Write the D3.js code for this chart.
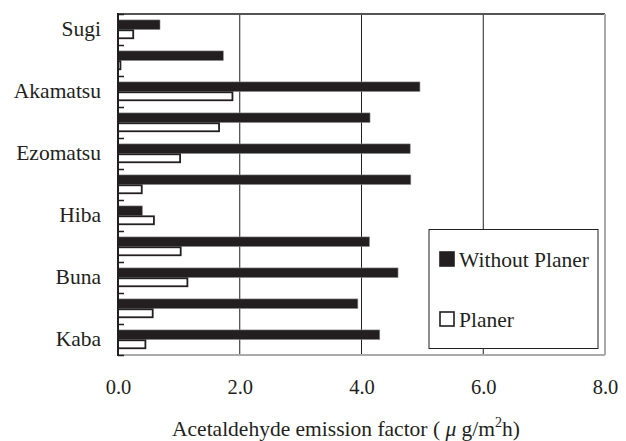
<!DOCTYPE html>
<html>
<head>
<meta charset="utf-8">
<script src="https://cdn.jsdelivr.net/npm/d3@7"></script>
</head>
<body style="margin:0;background:#fff">
<div id="chart"></div>
<script>
// ---- data ----
const categoryIds = ["c1","c2","c3","c4","c5","c6","c7","c8","c9","c10","c11"];
const tickLabels = ["Sugi","","Akamatsu","","Ezomatsu","","Hiba","","Buna","","Kaba"];
const seriesNames = ["Without Planer","Planer"];
const withoutPlaner = [0.69, 1.73, 4.96, 4.14, 4.80, 4.81, 0.40, 4.13, 4.60, 3.94, 4.30];
const planer        = [0.25, 0.04, 1.88, 1.66, 1.02, 0.39, 0.59, 1.03, 1.14, 0.57, 0.45];
const xTicks = [0, 2, 4, 6, 8];
const xTitle = "Acetaldehyde emission factor (";

const FONT = "'Liberation Serif', 'Times New Roman', Times, 'Noto Serif', 'DejaVu Serif', serif";
const INK = "#231f20";
const W = 626, H = 441;
const m = { left: 118, right: 21, top: 14, bottom: 86 };
const svg = d3.select("#chart").append("svg").attr("width", W).attr("height", H)
  .attr("font-family", FONT);

const x = d3.scaleLinear().domain([0, 8]).range([m.left, W - m.right]);
const y = d3.scaleBand().domain(categoryIds).range([m.top, H - m.bottom]).paddingInner(0).paddingOuter(0);
const ySub = d3.scaleBand().domain(seriesNames).range([0, y.bandwidth()]).paddingInner(0).paddingOuter(0.62);
const yB = d3.scaleLinear().domain([0, categoryIds.length]).range([m.top, H - m.bottom]);

// gridlines
svg.append("g").selectAll("line").data(xTicks.filter(d => d > 0 && d < 8)).join("line")
  .attr("x1", d => x(d)).attr("x2", d => x(d))
  .attr("y1", m.top).attr("y2", H - m.bottom)
  .attr("stroke", INK).attr("stroke-width", 1);

// frame: top, right, bottom
svg.append("line").attr("x1", x(0)).attr("x2", x(8)).attr("y1", m.top).attr("y2", m.top)
  .attr("stroke", "#555").attr("stroke-width", 2);
svg.append("line").attr("x1", x(8)).attr("x2", x(8)).attr("y1", m.top).attr("y2", H - m.bottom)
  .attr("stroke", "#aaa").attr("stroke-width", 2);
svg.append("line").attr("x1", x(0)).attr("x2", x(8)).attr("y1", H - m.bottom).attr("y2", H - m.bottom)
  .attr("stroke", "#aaa").attr("stroke-width", 2);

// bars
const rows = categoryIds.map((id, i) => ({ id, vals: [withoutPlaner[i], planer[i]] }));
const g = svg.append("g").selectAll("g").data(rows).join("g")
  .attr("transform", d => `translate(0,${y(d.id)})`);
g.append("rect")
  .attr("x", x(0)).attr("y", ySub(seriesNames[0]))
  .attr("width", d => x(d.vals[0]) - x(0)).attr("height", ySub.bandwidth())
  .attr("fill", INK).attr("stroke", "#888").attr("stroke-width", 0.6);
g.append("rect")
  .attr("x", x(0)).attr("y", ySub(seriesNames[1]) + 0.8)
  .attr("width", d => x(d.vals[1]) - x(0)).attr("height", ySub.bandwidth() - 1.6)
  .attr("fill", "#fff").attr("stroke", INK).attr("stroke-width", 1.8);

// y axis (left line + inner ticks at band boundaries)
const yTickAxis = d3.axisRight(yB).ticks(categoryIds.length).tickSize(6).tickFormat("");
const yt = svg.append("g").attr("transform", `translate(${x(0)},0)`).call(yTickAxis);
yt.select(".domain").remove();
yt.selectAll("line").attr("stroke", INK).attr("stroke-width", 1.5);
svg.append("line").attr("x1", x(0)).attr("x2", x(0)).attr("y1", m.top - 1).attr("y2", H - m.bottom + 1)
  .attr("stroke", INK).attr("stroke-width", 2);

// category labels
const yLab = d3.axisLeft(y).tickSize(0).tickPadding(17).tickFormat((d, i) => tickLabels[i]);
const yl = svg.append("g").attr("transform", `translate(${x(0)},0)`).call(yLab)
  .attr("font-family", FONT).attr("font-size", 21.5);
yl.select(".domain").remove();
yl.selectAll("text").attr("font-family", FONT).attr("font-size", 21.5).attr("dy", "0.32em").attr("fill", INK);

// x axis labels
const xAx = d3.axisBottom(x).tickValues(xTicks).tickFormat(d3.format(".1f")).tickSize(0).tickPadding(0);
const xl = svg.append("g").attr("transform", `translate(0,${H - m.bottom})`).call(xAx)
  .attr("font-family", FONT).attr("font-size", 20.5);
xl.select(".domain").remove();
xl.selectAll("line").remove();
xl.selectAll("text").attr("font-family", FONT).attr("font-size", 20.5).attr("dy", null).attr("y", 39).attr("fill", INK);

// x title
const t = svg.append("text").attr("x", 346).attr("y", 436).attr("text-anchor", "middle")
  .attr("font-family", FONT).attr("font-size", 21.5).attr("fill", INK);
t.append("tspan").text(xTitle + " ");
t.append("tspan").attr("font-style", "italic").text("μ");
t.append("tspan").text(" g/m");
t.append("tspan").attr("font-size", 14).attr("dy", -9).text("2");
t.append("tspan").attr("dy", 9).text("h)");

// legend
const lg = svg.append("g");
lg.append("rect").attr("x", 429).attr("y", 229.5).attr("width", 169).attr("height", 119)
  .attr("fill", "#fff").attr("stroke", INK).attr("stroke-width", 1);
const items = [
  { name: seriesNames[0], fill: INK, y: 252 },
  { name: seriesNames[1], fill: "#fff", y: 312 }
];
items.forEach(it => {
  lg.append("rect").attr("x", 440).attr("y", it.y).attr("width", 14).attr("height", 14)
    .attr("fill", it.fill).attr("stroke", INK).attr("stroke-width", 1.6);
  lg.append("text").attr("x", 459).attr("y", it.y + 14.5)
    .attr("font-family", FONT).attr("font-size", 21.5).attr("fill", INK).text(it.name);
});
</script>
</body>
</html>
